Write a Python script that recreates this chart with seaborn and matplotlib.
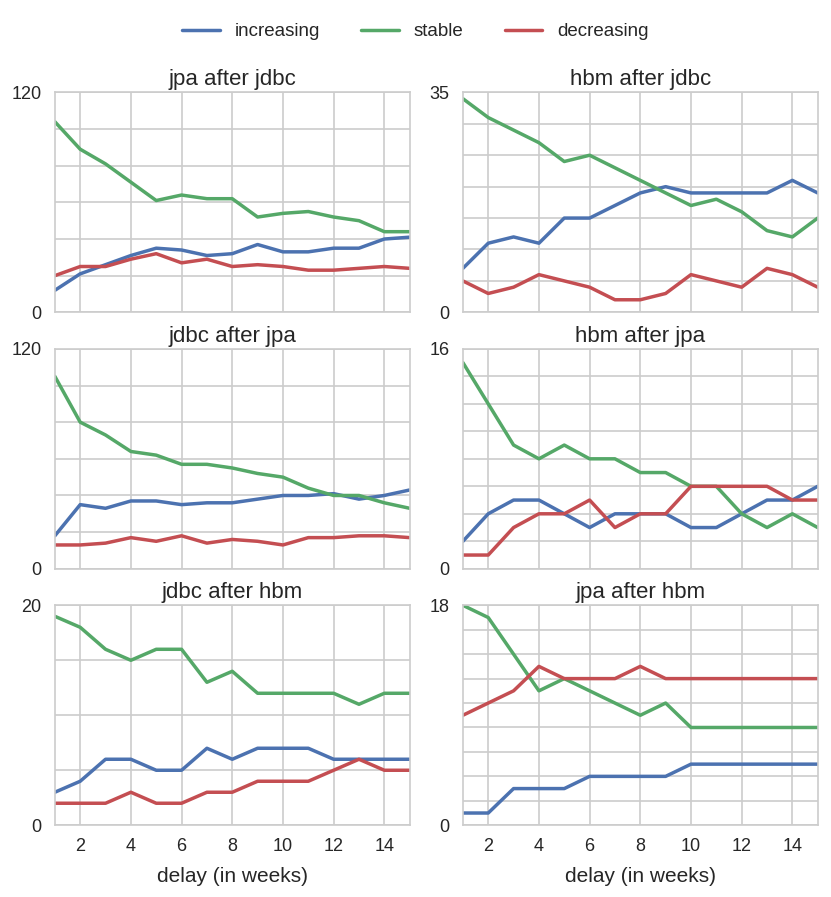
import numpy as np
import pandas as pd
import matplotlib
matplotlib.use("Agg")
import matplotlib.pyplot as plt
import seaborn as sns

# delay in weeks
weeks = list(range(1, 16))
trends = ["increasing", "stable", "decreasing"]
colors = ["#4C72B0", "#55A868", "#C44E52"]

titles = ["jpa after jdbc", "hbm after jdbc",
          "jdbc after jpa", "hbm after jpa",
          "jdbc after hbm", "jpa after hbm"]
y_max = [120, 35, 120, 16, 20, 18]
y_step = [20, 5, 20, 2, 5, 2]

# jpa after jdbc
jpa_jdbc_inc = [12, 21, 26, 31, 35, 34, 31, 32, 37, 33, 33, 35, 35, 40, 41]
jpa_jdbc_sta = [104, 89, 81, 71, 61, 64, 62, 62, 52, 54, 55, 52, 50, 44, 44]
jpa_jdbc_dec = [20, 25, 25, 29, 32, 27, 29, 25, 26, 25, 23, 23, 24, 25, 24]
# hbm after jdbc
hbm_jdbc_inc = [7, 11, 12, 11, 15, 15, 17, 19, 20, 19, 19, 19, 19, 21, 19]
hbm_jdbc_sta = [34, 31, 29, 27, 24, 25, 23, 21, 19, 17, 18, 16, 13, 12, 15]
hbm_jdbc_dec = [5, 3, 4, 6, 5, 4, 2, 2, 3, 6, 5, 4, 7, 6, 4]
# jdbc after jpa
jdbc_jpa_inc = [18, 35, 33, 37, 37, 35, 36, 36, 38, 40, 40, 41, 38, 40, 43]
jdbc_jpa_sta = [105, 80, 73, 64, 62, 57, 57, 55, 52, 50, 44, 40, 40, 36, 33]
jdbc_jpa_dec = [13, 13, 14, 17, 15, 18, 14, 16, 15, 13, 17, 17, 18, 18, 17]
# hbm after jpa
hbm_jpa_inc = [2, 4, 5, 5, 4, 3, 4, 4, 4, 3, 3, 4, 5, 5, 6]
hbm_jpa_sta = [15, 12, 9, 8, 9, 8, 8, 7, 7, 6, 6, 4, 3, 4, 3]
hbm_jpa_dec = [1, 1, 3, 4, 4, 5, 3, 4, 4, 6, 6, 6, 6, 5, 5]
# jdbc after hbm
jdbc_hbm_inc = [3, 4, 6, 6, 5, 5, 7, 6, 7, 7, 7, 6, 6, 6, 6]
jdbc_hbm_sta = [19, 18, 16, 15, 16, 16, 13, 14, 12, 12, 12, 12, 11, 12, 12]
jdbc_hbm_dec = [2, 2, 2, 3, 2, 2, 3, 3, 4, 4, 4, 5, 6, 5, 5]
# jpa after hbm
jpa_hbm_inc = [1, 1, 3, 3, 3, 4, 4, 4, 4, 5, 5, 5, 5, 5, 5]
jpa_hbm_sta = [18, 17, 14, 11, 12, 11, 10, 9, 10, 8, 8, 8, 8, 8, 8]
jpa_hbm_dec = [9, 10, 11, 13, 12, 12, 12, 13, 12, 12, 12, 12, 12, 12, 12]

series = [
    (jpa_jdbc_inc, jpa_jdbc_sta, jpa_jdbc_dec),
    (hbm_jdbc_inc, hbm_jdbc_sta, hbm_jdbc_dec),
    (jdbc_jpa_inc, jdbc_jpa_sta, jdbc_jpa_dec),
    (hbm_jpa_inc, hbm_jpa_sta, hbm_jpa_dec),
    (jdbc_hbm_inc, jdbc_hbm_sta, jdbc_hbm_dec),
    (jpa_hbm_inc, jpa_hbm_sta, jpa_hbm_dec),
]

sns.set_style("whitegrid")
plt.rcParams['font.family'] = ['Liberation Sans', 'DejaVu Sans']

fig, axes = plt.subplots(3, 2, figsize=(8.31, 8.97), dpi=100, sharex=True)
fig.subplots_adjust(left=0.066, right=0.984, top=0.897, bottom=0.080,
                    wspace=0.15, hspace=0.166)

for i, ax in enumerate(axes.flat):
    rows = []
    for trend, vals in zip(trends, series[i]):
        for w, v in zip(weeks, vals):
            rows.append({"week": w, "count": v, "trend": trend})
    df = pd.DataFrame(rows)
    sns.lineplot(data=df, x="week", y="count", hue="trend", hue_order=trends,
                 palette=colors, linewidth=2.5, ax=ax, legend=(i == 0))
    ax.set_xlim(1, 15)
    ax.set_xticks(range(2, 15, 2))
    ax.set_ylim(0, y_max[i])
    ticks = np.arange(0, y_max[i] + 1, y_step[i])
    ax.set_yticks(ticks)
    ax.set_yticklabels([str(t) if t in (0, y_max[i]) else "" for t in ticks])
    ax.tick_params(labelsize=13, pad=6)
    ax.set_title(titles[i], fontsize=16, pad=5)
    ax.set_ylabel("")
    if i >= 4:
        ax.set_xlabel("delay (in weeks)", fontsize=15, labelpad=8)
    else:
        ax.set_xlabel("")
    ax.grid(True, color="#cccccc", linewidth=1.2)
    for s in ax.spines.values():
        s.set_color("#cccccc")
        s.set_linewidth(1.2)

handles, labels = axes[0, 0].get_legend_handles_labels()
axes[0, 0].get_legend().remove()
fig.legend(handles, labels, loc="upper center", ncol=3, frameon=False,
           fontsize=13.5, bbox_to_anchor=(0.5, 0.993), columnspacing=2.2,
           handlelength=2.0)

plt.savefig("out.png", dpi=100)
